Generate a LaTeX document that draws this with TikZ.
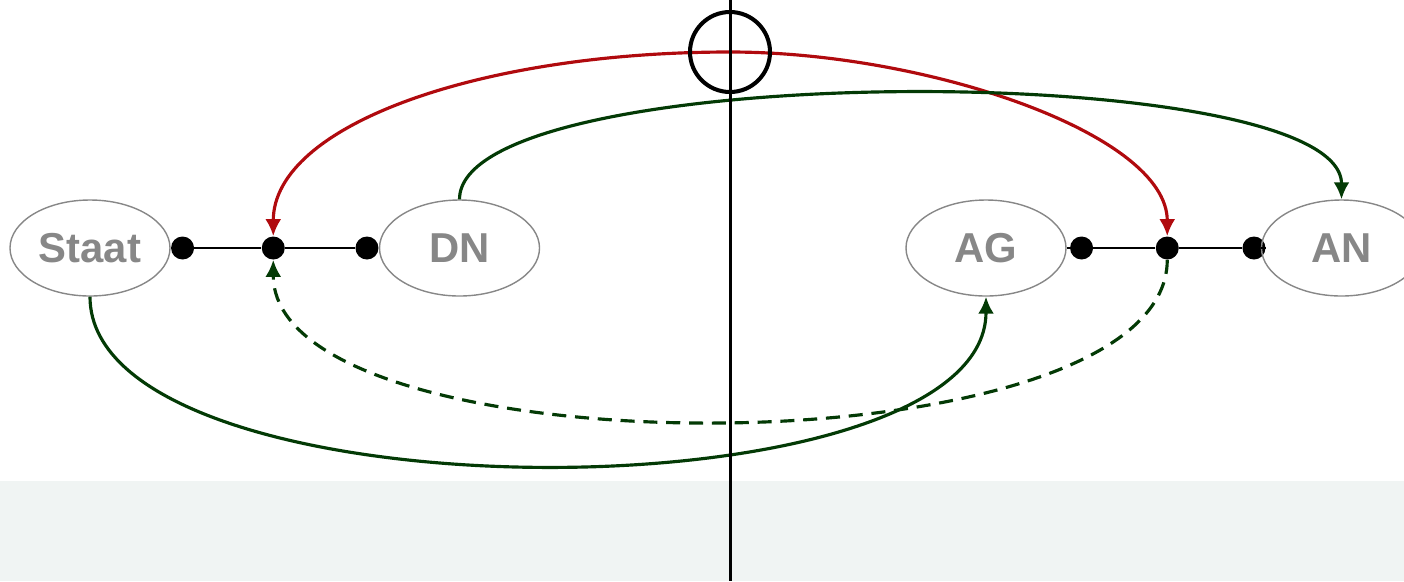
\documentclass[tikz,border=0pt]{standalone}
\usepackage{fontspec}
\setsansfont{Liberation Sans}
\usetikzlibrary{arrows.meta,positioning,shapes.geometric}
\definecolor{rotpfeil}{HTML}{B00A0E}
\definecolor{gruenpfeil}{HTML}{033A05}
\definecolor{grautext}{HTML}{878787}
\definecolor{bandgrau}{HTML}{F0F4F3}

\begin{document}
\begin{tikzpicture}[
  partei/.style={ellipse, draw=grautext, line width=0.8pt, inner sep=0pt,
    minimum width=3.2cm, minimum height=1.92cm, text=grautext,
    font=\sffamily\bfseries\fontsize{23.8}{28}\selectfont},
  punkt/.style={circle, fill=black, inner sep=0pt, minimum size=0.46cm},
  rot/.style={draw=rotpfeil, line width=1.8pt, -{Latex[length=3.4mm,width=3.2mm]}},
  gruen/.style={draw=gruenpfeil, line width=1.8pt, -{Latex[length=3.4mm,width=3.2mm]}},
  >=Latex, node distance=0.6cm and 1.4cm
]
\useasboundingbox (0,0) rectangle (28.08,-11.62);
\fill[bandgrau] (0,-9.62) rectangle (28.08,-11.62);

% linke Seite
\node[partei] (staat) at (1.8,-4.96) {Staat};
\node[punkt, right=0pt of staat] (s1) {};
\node[punkt, right=1.34cm of s1] (s2) {};
\node[punkt, right=1.4cm of s2] (s3) {};
\node[partei, right=0pt of s3] (dn) {DN};

% rechte Seite
\node[partei] (ag) at (19.72,-4.96) {AG};
\node[punkt, right=0.06cm of ag] (t1) {};
\node[punkt, right=1.24cm of t1] (t2) {};
\node[punkt, right=1.26cm of t2] (t3) {};
\node[partei, right=-0.1cm of t3] (an) {AN};

\draw[line width=0.9pt] (staat) -- (s1) -- (s2) -- (s3) -- (dn);
\draw[line width=0.9pt] (ag) -- (t1) -- (t2) -- (t3) -- (an);

\node[circle, minimum size=1.6cm, inner sep=0pt] (ring) at (14.6,-1.04) {};
\coordinate (oben) at (14.6,0);
\coordinate (unten) at (14.6,-11.62);

% Pfeile
\draw[rot] (ring.center) .. controls +(-5.0,0) and +(0,2.22) .. (s2.north);
\draw[rot] (ring.center) .. controls +(3.94,0) and +(0,2.04) .. (t2.north);
\draw[gruen] (dn.north) .. controls +(0,2.82) and +(0,2.82) .. (an.north);
\draw[gruen] (staat.south) .. controls +(0,-4.5) and +(0,-4.5) .. (ag.south);
\draw[gruen, dash pattern=on 8pt off 5pt] (t2.south) .. controls +(0,-4.3) and +(0,-4.3) .. (s2.south);

\draw[line width=2.3pt] (ring) circle (0.8cm);
\draw[line width=1.7pt] (oben) -- (unten);
\end{tikzpicture}
\end{document}
